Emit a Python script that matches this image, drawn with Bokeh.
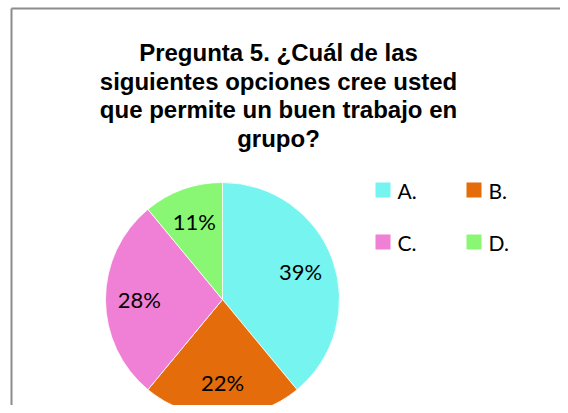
import math
from bokeh.plotting import figure
from bokeh.models import Range1d, ColumnDataSource
from bokeh.core.properties import value
from bokeh.embed import file_html
from bokeh.resources import INLINE

# ---- data ----
categories = ["A.", "B.", "C.", "D."]
percentages = [39, 22, 28, 11]
colors = ["#75F4F0", "#E46C0A", "#F07FD6", "#89F773"]
title_lines = [
    "Pregunta 5. ¿Cuál de las",
    "siguientes opciones cree usted",
    "que permite un buen trabajo en",
    "grupo?",
]

W, H = 560, 405
p = figure(width=W, height=H, output_backend="svg", toolbar_location=None,
           x_range=Range1d(0, W), y_range=Range1d(0, H),
           x_axis_location=None, y_axis_location=None, min_border=0)
p.outline_line_color = None
p.grid.visible = False
p.background_fill_color = "white"

# chart border (only top/left visible in the crop)
p.segment(x0=[11, 11], y0=[397, 397], x1=[11, W], y1=[0, 397],
          line_color="#8c8c8c", line_width=2, line_cap="butt")

# ---- pie ----
cx, cy, R = 222, 106, 117
total = float(sum(percentages))
starts, ends, mids = [], [], []
cum = 0.0
for v in percentages:
    a0 = math.pi / 2 - 2 * math.pi * (cum + v) / total
    a1 = math.pi / 2 - 2 * math.pi * cum / total
    starts.append(a0)
    ends.append(a1)
    mids.append((a0 + a1) / 2)
    cum += v

src = ColumnDataSource(dict(start=starts, end=ends, color=colors))
p.wedge(x=cx, y=cy, radius=R, radius_units="screen", start_angle="start",
        end_angle="end", fill_color="color", line_color="white", line_width=0.8,
        source=src)

rl = 0.71 * R
lab = ColumnDataSource(dict(
    x=[cx + rl * math.cos(m) for m in mids],
    y=[cy + rl * math.sin(m) for m in mids],
    t=[f"{v}%" for v in percentages],
))
p.text(x="x", y="y", text="t", source=lab, text_font=value("Lato"),
       text_font_size="22px", text_align="center", text_baseline="middle",
       text_color="black")

# ---- title ----
tsrc = ColumnDataSource(dict(
    x=[278] * len(title_lines),
    y=[353 - 28.5 * i for i in range(len(title_lines))],
    t=title_lines,
))
p.text(x="x", y="y", text="t", source=tsrc, text_font=value("Liberation Sans"),
       text_font_style="bold", text_font_size="24px", text_align="center",
       text_baseline="alphabetic", text_color="black")

# ---- legend ----
lx = [382.5, 473.5, 382.5, 473.5]
ly = [215.5, 215.5, 163.5, 163.5]
leg = ColumnDataSource(dict(x=lx, y=ly, tx=[x + 14.5 for x in lx], c=colors,
                            t=categories))
p.scatter(x="x", y="y", source=leg, marker="square", size=15,
          fill_color="c", line_color=None)
p.text(x="tx", y="y", text="t", source=leg, text_font=value("Lato"),
       text_font_size="21px", text_align="left", text_baseline="middle",
       text_color="black")

open("out.html", "w").write(file_html(p, INLINE))
